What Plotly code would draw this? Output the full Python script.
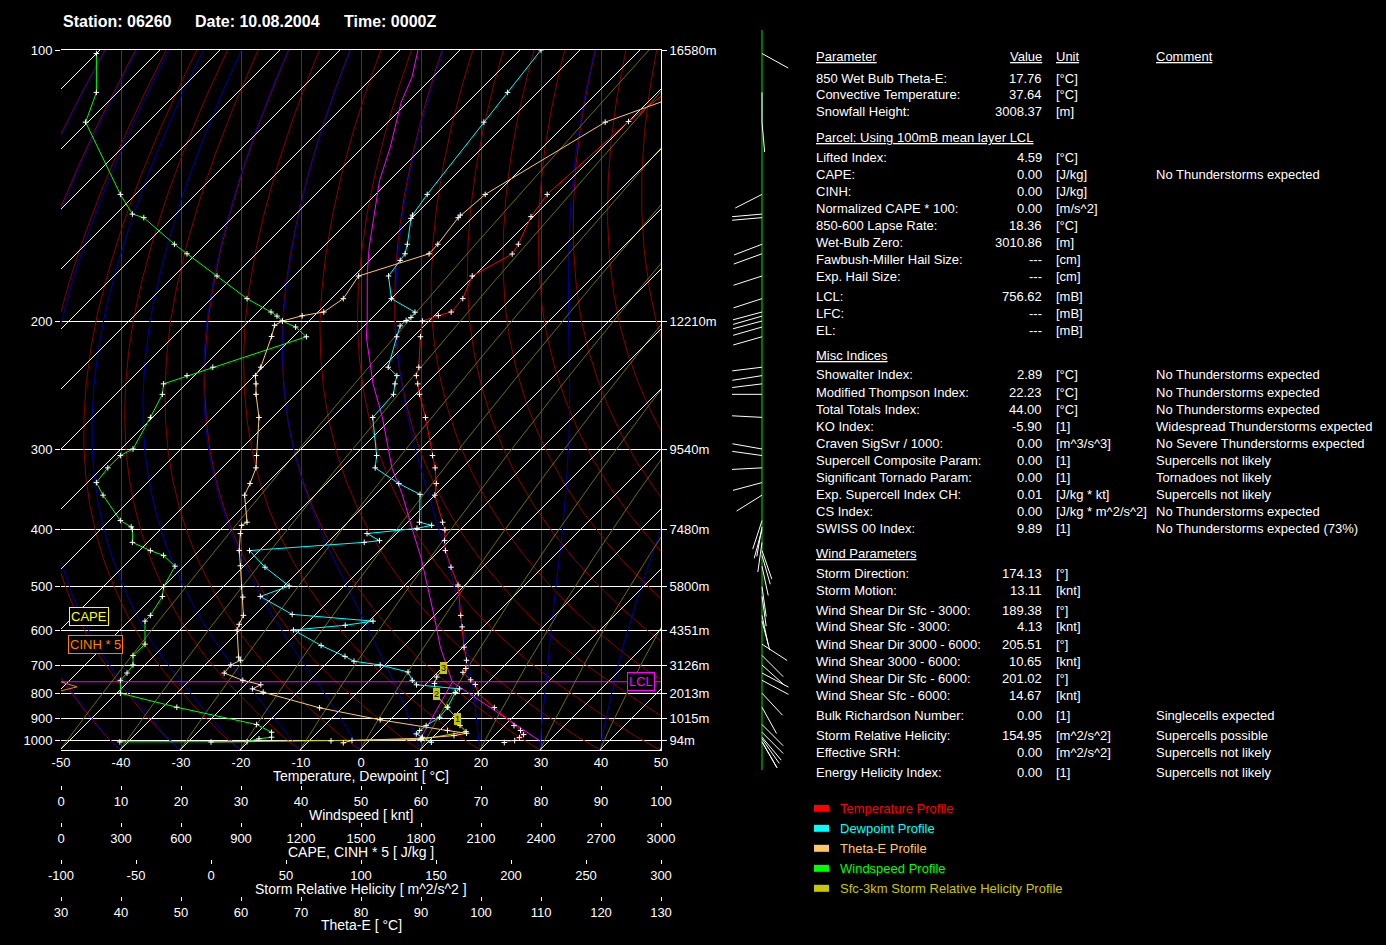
import numpy as np
import plotly.graph_objects as go

W, H = 1386, 945
FONT = "Liberation Sans, Arial, sans-serif"

# ---------------- sounding data ----------------
TEMP_P = [100, 118.2, 141.7, 150.1, 161.5, 165.8, 176.1, 187.6, 194.9, 196.9,
          200, 209.6, 230, 236.1, 242.3, 250.5, 270, 306.8, 320.2, 338.4,
          352.9, 389.9, 401.6, 418, 434.4, 463.6, 498, 564, 592, 646.4,
          685.3, 711.3, 724, 749.7, 766.4, 800, 854, 930.7, 952.8, 971.7,
          985.8, 1000, 1010.4]
TEMP_C = [-56.5, -60.0, -61.4, -60.4, -57.9, -57.3, -60.3, -58.1, -57.8, -59.35,
          -61.1, -58.8, -54.0, -53.0, -51.4, -49.35, -44.5, -37.0, -34.5, -31.7,
          -30.0, -24.2, -22.5, -20.8, -19.0, -15.3, -11.15, -5.65, -3.5, 0.2,
          2.8, 4.05, 4.2, 6.75, 8.3, 10.3, 15.3, 21.6, 23.5, 24.7,
          24.5, 24.2, 22.8]

DEW_P = [100, 110.3, 118.4, 141.7, 149.5, 150.8, 161.5, 165.7, 168.7, 176.1,
         187.6, 195, 198, 199.7, 202.9, 209.6, 230, 236.1, 242.3, 250.5,
         270, 306.8, 320.2, 338.4, 351.9, 389.9, 394.5, 399, 407, 418,
         420.8, 434.4, 463.6, 500, 521.6, 561.7, 577.8, 588, 600, 641.7,
         673.5, 688.2, 700, 722.9, 751.5, 767.5, 782.5, 796, 853, 894.6,
         930.7, 952.8, 968.4, 984.4, 1008.9]
DEW_C = [-86.5, -85.0, -84.0, -81.4, -80.4, -80.1, -76.4, -75.2, -74.9, -74.25,
         -70.0, -63.8, -63.6, -63.9, -64.0, -62.75, -59.1, -56.25, -55.2, -53.7,
         -53.3, -46.3, -44.5, -37.95, -32.6, -28.05, -25.5, -27.45, -34.9, -31.65,
         -33.9, -51.65, -46.3, -39.15, -42.2, -33.9, -19.3, -23.25, -31.1, -23.9,
         -18.1, -15.8, -10.8, -5.0, -2.9, -1.45, 6.4, 6.3, 7.5, 7.8,
         6.95, 6.7, 6.7, 8.3, 10.6]

THE_P = [100, 118.4, 141.7, 149.5, 150.5, 161.5, 165.7, 176.1, 187.6, 194.9,
         197, 200, 202.6, 209.4, 230, 236.1, 242.3, 250.5, 270, 306.8,
         320.2, 338.4, 352.9, 389.9, 394.5, 407, 434.4, 461, 501.5, 523,
         564, 585.6, 600, 675.6, 685.3, 700, 726.4, 751.5, 767.5, 782.5,
         795, 855.4, 905.7, 952.8, 965.6, 976.4, 989, 1000, 1012]
THE_C = [154, 120.7, 100.7, 96.55, 96.2, 92.8, 91.35, 79.6, 77.05, 73.8,
         70.2, 66.9, 65.6, 65.1, 63.3, 62.4, 62.5, 62.5, 63.0, 62.6,
         62.5, 61.5, 60.6, 61.0, 60.1, 59.9, 59.7, 59.9, 60.1, 60.3,
         60.4, 59.7, 59.35, 59.6, 59.9, 58.3, 57.2, 60.3, 63.3, 61.9,
         63.7, 73.1, 83.2, 94.4, 97.6, 95.5, 90.05, 78.5, 77.05]

WIND_P = [100.8, 110.3, 118.4, 141.7, 149.1, 150.5, 161.5, 165.7, 176.1, 187.6,
          194.9, 197.2, 200, 203.6, 209.6, 230, 236.1, 242.3, 250.5, 269.9,
          300, 306.8, 320.2, 337.3, 352.9, 387.5, 396.8, 400.5, 420.8, 434.4,
          442.6, 461.7, 501.5, 521.6, 564, 577.8, 638, 670.6, 700, 726.4,
          751.5, 799, 853, 926, 961, 984, 991.7, 1006, 1007]
WIND_KT = [5.9, 5.9, 4.1, 9.9, 11.9, 13.8, 18.9, 21.0, 26.0, 31.0,
           35.0, 36.0, 36.9, 39.1, 40.9, 25.3, 21.0, 17.1, 16.9, 14.9,
           12.0, 9.9, 7.8, 5.9, 7.0, 9.9, 11.7, 11.9, 11.9, 14.9,
           17.1, 19.0, 17.1, 16.9, 14.9, 14.0, 14.0, 12.0, 12.0, 11.0,
           9.9, 9.9, 19.3, 32.6, 35.1, 35.1, 33.0, 31.0, 9.8]
WIND_DIR = [119, 180, 175, 243, 265, 265, 249, 250, 252, 252,
            255, 254, 255, 254, 254, 263, 261, 263, 270, 273,
            280, 278, 267, 255, 238, 198, 190, 195, 188, 161,
            164, 168, 172, 172, 168, 165, 123, 135, 132, 118,
            118, 137, 151, 135, 135, 140, 145, 150, 150]

PARCEL_P = [757.8, 705.8, 646.4, 564, 501.3, 448, 401.6, 350.5, 320.2, 269.5,
            242.3, 210, 200, 174.6, 162.7, 136.8, 125.9, 112.9, 106.5, 100]
PARCEL_C = [4.07, 0.67, -3.75, -10.1, -15.9, -21.7, -27.9, -35.8, -41.7, -51.8,
            -58.85, -67.7, -70.3, -78.3, -82.3, -91.65, -95.4, -101.1, -103.45, -107.0]
PARCEL_SFC_P = [1000, 757.8]
PARCEL_DRY_C = [28.3, 4.07]
PARCEL_MIX_C = [8.3, 4.07]
LCL_P = 756.62

SRH_P = [1007.8, 1002, 995, 958, 930, 901, 853, 804, 763, 740, 711]
SRH_V = [0, 80, 140, 170, 166, 164, 157.5, 150, 149, 150.5, 154.7]
SRH_KM_P = [900, 801, 711]
SRH_KM_V = [164, 150, 154.7]
SRH_KM_LBL = ["1", "2", "3"]

CINH_P = [757, 775, 790]
CINH_V = [0, 80, 0]

# ---------------- axes / tick labels ----------------
P_LEVELS = [100, 200, 300, 400, 500, 600, 700, 800, 900, 1000]
HEIGHT_LABELS = ["16580m", "12210m", "9540m", "7480m", "5800m", "4351m",
                 "3126m", "2013m", "1015m", "94m"]
T_TICKS = list(range(-50, 51, 10))
WS_TICKS = list(range(0, 101, 10))
CAPE_TICKS = list(range(0, 3001, 300))
SRH_TICKS = list(range(-100, 301, 50))
THE_TICKS = list(range(30, 131, 10))

TITLE_PARTS = ["Station: 06260", "Date: 10.08.2004", "Time: 0000Z"]
AXIS_TITLES = ["Temperature, Dewpoint [ °C]", "Windspeed [ knt]",
               "CAPE, CINH * 5 [ J/kg ]", "Storm Relative Helicity [ m^2/s^2 ]",
               "Theta-E [ °C]"]

HEADERS = ["Parameter", "Value", "Unit", "Comment"]
TABLE = [
    ("850 Wet Bulb Theta-E:", "17.76", "[°C]", ""),
    ("Convective Temperature:", "37.64", "[°C]", ""),
    ("Snowfall Height:", "3008.37", "[m]", ""),
    ("#Parcel: Using 100mB mean layer LCL", "", "", ""),
    ("Lifted Index:", "4.59", "[°C]", ""),
    ("CAPE:", "0.00", "[J/kg]", "No Thunderstorms expected"),
    ("CINH:", "0.00", "[J/kg]", ""),
    ("Normalized CAPE * 100:", "0.00", "[m/s^2]", ""),
    ("850-600 Lapse Rate:", "18.36", "[°C]", ""),
    ("Wet-Bulb Zero:", "3010.86", "[m]", ""),
    ("Fawbush-Miller Hail Size:", "---", "[cm]", ""),
    ("Exp. Hail Size:", "---", "[cm]", ""),
    ("LCL:", "756.62", "[mB]", ""),
    ("LFC:", "---", "[mB]", ""),
    ("EL:", "---", "[mB]", ""),
    ("#Misc Indices", "", "", ""),
    ("Showalter Index:", "2.89", "[°C]", "No Thunderstorms expected"),
    ("Modified Thompson Index:", "22.23", "[°C]", "No Thunderstorms expected"),
    ("Total Totals Index:", "44.00", "[°C]", "No Thunderstorms expected"),
    ("KO Index:", "-5.90", "[1]", "Widespread Thunderstorms expected"),
    ("Craven SigSvr / 1000:", "0.00", "[m^3/s^3]", "No Severe Thunderstorms expected"),
    ("Supercell Composite Param:", "0.00", "[1]", "Supercells not likely"),
    ("Significant Tornado Param:", "0.00", "[1]", "Tornadoes not likely"),
    ("Exp. Supercell Index CH:", "0.01", "[J/kg * kt]", "Supercells not likely"),
    ("CS Index:", "0.00", "[J/kg * m^2/s^2]", "No Thunderstorms expected"),
    ("SWISS 00 Index:", "9.89", "[1]", "No Thunderstorms expected (73%)"),
    ("#Wind Parameters", "", "", ""),
    ("Storm Direction:", "174.13", "[°]", ""),
    ("Storm Motion:", "13.11", "[knt]", ""),
    ("Wind Shear Dir Sfc - 3000:", "189.38", "[°]", ""),
    ("Wind Shear Sfc - 3000:", "4.13", "[knt]", ""),
    ("Wind Shear Dir 3000 - 6000:", "205.51", "[°]", ""),
    ("Wind Shear 3000 - 6000:", "10.65", "[knt]", ""),
    ("Wind Shear Dir Sfc - 6000:", "201.02", "[°]", ""),
    ("Wind Shear Sfc - 6000:", "14.67", "[knt]", ""),
    ("Bulk Richardson Number:", "0.00", "[1]", "Singlecells expected"),
    ("Storm Relative Helicity:", "154.95", "[m^2/s^2]", "Supercells possible"),
    ("Effective SRH:", "0.00", "[m^2/s^2]", "Supercells not likely"),
    ("Energy Helicity Index:", "0.00", "[1]", "Supercells not likely"),
]
LEGEND_ITEMS = [("Temperature Profile", "#FF0000"),
                ("Dewpoint Profile", "#00FFFF"),
                ("Theta-E Profile", "#FFC864"),
                ("Windspeed Profile", "#00FF00"),
                ("Sfc-3km Storm Relative Helicity Profile", "#C8C800")]

# ---------------- layout constants (pixels) ----------------
ROW_Y = [78.3, 95, 111.7, 137.3, 157.3, 174.3, 191, 208.3, 225, 242.3, 259.3, 276.7,
         296.7, 313.3, 330.3, 355.7, 375, 392.3, 409.3, 426.7, 443.3, 460, 477.3,
         494.3, 511.3, 528.3, 553.3, 573.3, 590, 610, 626.7, 644.7, 661.7, 678.3,
         695.3, 715.3, 735.3, 752.7, 772.7]
HEADER_Y = 56.7
LEGEND_Y0, LEGEND_DY = 808.3, 20
COL_PARAM, COL_VALUE, COL_UNIT, COL_COMMENT = 814, 1044, 1054, 1154
AXIS_TITLE_Y = [776, 814.5, 851.5, 888.5, 925]
FREE_AXIS_POS = [785, 822, 859, 896]

# pressure -> vertical pixel mapping of the diagram
Y_TICK_PX = np.array([50, 321, 449, 529, 586, 630, 665, 693.5, 718.5, 740.5])
P_TICK = np.array(P_LEVELS, float)


def _base(p):
    f = lambda q: np.power(q, -0.35)
    return 50 + 690.5 * (f(100.0) - f(p)) / (f(100.0) - f(1000.0))


_RES = Y_TICK_PX - _base(P_TICK)


def ypx(p):
    p = np.asarray(p, float)
    return _base(p) + np.interp(np.log(p), np.log(P_TICK), _RES)


SKEW0 = 749.0


def skew(p):
    return (SKEW0 - ypx(p)) / 6.0


def XS(p, t):
    return np.asarray(t, float) + skew(p)


def YS(p):
    return -ypx(p)


fig = go.Figure()


def add_segments(segs, color, width=1, xaxis='x', yaxis='y'):
    xs, ys = [], []
    for sx, sy in segs:
        xs += [float(v) for v in sx] + [None]
        ys += [float(v) for v in sy] + [None]
    fig.add_trace(go.Scatter(x=xs, y=ys, mode='lines', xaxis=xaxis, yaxis=yaxis,
                             line=dict(color=color, width=width),
                             hoverinfo='skip', showlegend=False))


# ---------------- background lines ----------------
pg = np.geomspace(1050, 100, 140)
segs = []
for t0 in range(-50, 131, 10):
    theta = (t0 + 273.15) * (1000.0 / 1050.0) ** 0.2857
    tt = theta * (pg / 1000.0) ** 0.2857 - 273.15
    segs.append((XS(pg, tt), YS(pg)))
add_segments(segs, '#8C0000')


def pseudo_adiabats(T0s, ps):
    Rd, Cp, Lv, eps = 287.04, 1005.7, 2.501e6, 0.622

    def f(p, T):
        es = 6.112 * np.exp(17.67 * (T - 273.15) / (T - 29.65))
        rs = eps * es / (p - es)
        return (Rd * T + Lv * rs) / (p * (Cp + Lv * Lv * rs * eps / (Rd * T * T)))
    T = np.array(T0s, float) + 273.15
    out = [T.copy()]
    for i in range(1, len(ps)):
        p0, h = ps[i - 1], ps[i] - ps[i - 1]
        k1 = f(p0, T)
        k2 = f(p0 + h / 2, T + h / 2 * k1)
        k3 = f(p0 + h / 2, T + h / 2 * k2)
        k4 = f(p0 + h, T + h * k3)
        T = T + h / 6 * (k1 + 2 * k2 + 2 * k3 + k4)
        out.append(T.copy())
    return np.array(out).T - 273.15


pm = np.linspace(1050, 100, 191)
moist = pseudo_adiabats(list(range(-50, 51, 10)), pm)
add_segments([(XS(pm, m), YS(pm)) for m in moist], '#0000A8')

segs = []
for td0 in range(-50, 51, 10):
    e0 = 6.112 * np.exp(17.67 * td0 / (td0 + 243.5))
    w = 0.622 * e0 / (1050 - e0)
    e = w * pg / (0.622 + w)
    le = np.log(e / 6.112)
    td = 243.5 * le / (17.67 - le)
    segs.append((XS(pg, td), YS(pg)))
add_segments(segs, '#6E6E00')

segs = []
for t0 in range(-170, 51, 10):
    segs.append(([t0 + skew(1050), t0 + skew(100)], [YS(1050), YS(100)]))
add_segments(segs, '#FFFFFF')

fig.add_trace(go.Scatter(x=[-50, 50], y=[float(YS(LCL_P))] * 2, mode='lines',
                         line=dict(color='#FF00FF', width=1), hoverinfo='skip', showlegend=False))

MK = dict(symbol='cross-thin', size=4, line=dict(color='white', width=1))


def profile(xv, yv, color, xaxis='x', markers=True):
    fig.add_trace(go.Scatter(x=list(map(float, xv)), y=list(map(float, yv)),
                             mode='lines+markers' if markers else 'lines',
                             xaxis=xaxis, yaxis='y', line=dict(color=color, width=1),
                             marker=MK, hoverinfo='skip', showlegend=False))


profile(CINH_V, YS(CINH_P), '#FF8000', xaxis='x4', markers=False)
profile(WIND_KT, YS(WIND_P), '#00FF00', xaxis='x3')
profile(THE_C, YS(THE_P), '#FFC864', xaxis='x6')
profile(SRH_V, YS(SRH_P), '#C8C800', xaxis='x5')
profile(XS(PARCEL_P, PARCEL_C), YS(PARCEL_P), '#FF00FF', markers=False)
profile(XS(PARCEL_SFC_P, PARCEL_DRY_C), YS(PARCEL_SFC_P), '#FF00FF', markers=False)
profile(XS(PARCEL_SFC_P, PARCEL_MIX_C), YS(PARCEL_SFC_P), '#FF00FF', markers=False)
profile(XS(DEW_P, DEW_C), YS(DEW_P), '#00FFFF')
profile(XS(TEMP_P, TEMP_C), YS(TEMP_P), '#FF0000')

fig.add_trace(go.Scatter(x=[0], y=[-2000], yaxis='y2', mode='markers', opacity=0,
                         hoverinfo='skip', showlegend=False))

# ---------------- wind barb column ----------------
L = 30.0
segs = []
for p, d in zip(WIND_P, WIND_DIR):
    y0 = float(YS(p))
    r = np.radians(d)
    segs.append(([0, L * np.sin(r)], [y0, y0 + L * np.cos(r)]))
fig.add_trace(go.Scatter(x=[0, 0], y=[-30, -770], mode='lines', xaxis='x7', yaxis='y7',
                         line=dict(color='#00E000', width=1), hoverinfo='skip', showlegend=False))
add_segments(segs, '#FFFFFF', xaxis='x7', yaxis='y7')

# ---------------- layout ----------------
XD = [61 / W, 661 / W]
YD = [1 - 750 / H, 1 - 50 / H]
ytv = [float(v) for v in YS(P_LEVELS)]
tf = dict(family=FONT, size=13, color='white')


def free_x(pos_px, rng, tv):
    return dict(overlaying='x', anchor='free', position=1 - pos_px / H, side='bottom',
                range=rng, tickvals=tv, ticktext=[str(v) for v in tv], showgrid=False,
                zeroline=False, showline=False, ticks='outside', ticklen=4,
                tickcolor='white', tickfont=tf, fixedrange=True, automargin=False)


fig.update_layout(
    template='none',
    width=W, height=H, margin=dict(l=0, r=0, t=0, b=0, pad=0), autosize=False,
    paper_bgcolor='black', plot_bgcolor='black', showlegend=False,
    font=dict(family=FONT, size=13, color='white'),
    xaxis=dict(domain=XD, range=[-50, 50], tickvals=T_TICKS,
               ticktext=[str(v) for v in T_TICKS], showgrid=True, gridcolor='#006400',
               gridwidth=1, zeroline=False, showline=True, linecolor='white', linewidth=1,
               mirror=True, ticks='', tickfont=tf,
               anchor='y', fixedrange=True, automargin=False),
    yaxis=dict(domain=YD, range=[-750, -50], tickvals=ytv,
               ticktext=[str(p) for p in P_LEVELS], showgrid=True, gridcolor='white',
               gridwidth=1, zeroline=False, showline=False, ticks='outside', ticklen=5,
               tickcolor='white', tickfont=tf, anchor='x', fixedrange=True,
               automargin=False),
    yaxis2=dict(overlaying='y', side='right', anchor='x', range=[-750, -50], tickvals=ytv,
                ticktext=HEIGHT_LABELS, showgrid=False, zeroline=False, showline=True,
                linecolor='white', ticks='outside', ticklen=5, tickcolor='white',
                tickfont=tf, fixedrange=True, automargin=False),
    xaxis3=free_x(FREE_AXIS_POS[0], [0, 100], WS_TICKS),
    xaxis4=free_x(FREE_AXIS_POS[1], [0, 3000], CAPE_TICKS),
    xaxis5=free_x(FREE_AXIS_POS[2], [-100, 300], SRH_TICKS),
    xaxis6=free_x(FREE_AXIS_POS[3], [30, 130], THE_TICKS),
    xaxis7=dict(domain=[700 / W, 830 / W], anchor='y7', range=[-62, 68], visible=False,
                fixedrange=True, automargin=False),
    yaxis7=dict(domain=[1 - 772 / H, 1 - 28 / H], anchor='x7', range=[-772, -28],
                visible=False, fixedrange=True, automargin=False),
)

ann = []


def A(x, y, text, color='white', size=13, xanchor='left', **kw):
    ann.append(dict(x=x / W, y=1 - y / H, xref='paper', yref='paper', text=text,
                    showarrow=False, xanchor=xanchor, yanchor='middle',
                    font=dict(family=FONT, size=size, color=color), **kw))


for xp, t in zip([61, 193, 342], TITLE_PARTS):
    A(xp, 22, "<b>%s</b>" % t, size=16)

for yp, t in zip(AXIS_TITLE_Y, AXIS_TITLES):
    A(361, yp, t, size=14, xanchor='center')

A(88.5, 616, "CAPE", color='#FFFF00', bordercolor='#FFFF00', borderwidth=1,
  borderpad=1, bgcolor='black', xanchor='center')
A(95, 644.5, "CINH * 5", color='#FF8000', bordercolor='#FF8000', borderwidth=1,
  borderpad=1, bgcolor='black', xanchor='center')
A(640.5, float(ypx(LCL_P)), "LCL", color='#FF00FF', bordercolor='#FF00FF', borderwidth=1,
  borderpad=1, bgcolor='black', xanchor='center')

for p, v, lb in zip(SRH_KM_P, SRH_KM_V, SRH_KM_LBL):
    ann.append(dict(x=v, y=float(YS(p)), xref='x5', yref='y', text=lb, showarrow=False,
                    xanchor='center', yanchor='middle', bgcolor='#C8C800',
                    bordercolor='#C8C800', borderpad=0,
                    font=dict(family=FONT, size=9, color='black')))

A(COL_PARAM, HEADER_Y, "<u>%s</u>" % HEADERS[0])
A(COL_VALUE, HEADER_Y, "<u>%s</u>" % HEADERS[1], xanchor='right')
A(COL_UNIT, HEADER_Y, "<u>%s</u>" % HEADERS[2])
A(COL_COMMENT, HEADER_Y, "<u>%s</u>" % HEADERS[3])
for yp, (pn, val, unit, com) in zip(ROW_Y, TABLE):
    if pn.startswith("#"):
        A(COL_PARAM, yp, "<u>%s</u>" % pn[1:])
        continue
    A(COL_PARAM, yp, pn)
    A(COL_VALUE, yp, val, xanchor='right')
    A(COL_UNIT, yp, unit)
    if com:
        A(COL_COMMENT, yp, com)

shapes = []
for i, (lbl, col) in enumerate(LEGEND_ITEMS):
    yc = LEGEND_Y0 + i * LEGEND_DY
    shapes.append(dict(type='rect', xref='paper', yref='paper', x0=814 / W, x1=829 / W,
                       y0=1 - (yc + 3.5) / H, y1=1 - (yc - 3.5) / H, fillcolor=col,
                       line=dict(width=0)))
    A(838, yc, lbl, color=col)

fig.update_layout(annotations=ann, shapes=shapes)
fig.write_html("out.html", config={'displayModeBar': False, 'staticPlot': True},
               post_script="document.body.style.margin='0px';"
                           "document.body.style.background='black';"
                           "document.documentElement.style.overflow='hidden';")
